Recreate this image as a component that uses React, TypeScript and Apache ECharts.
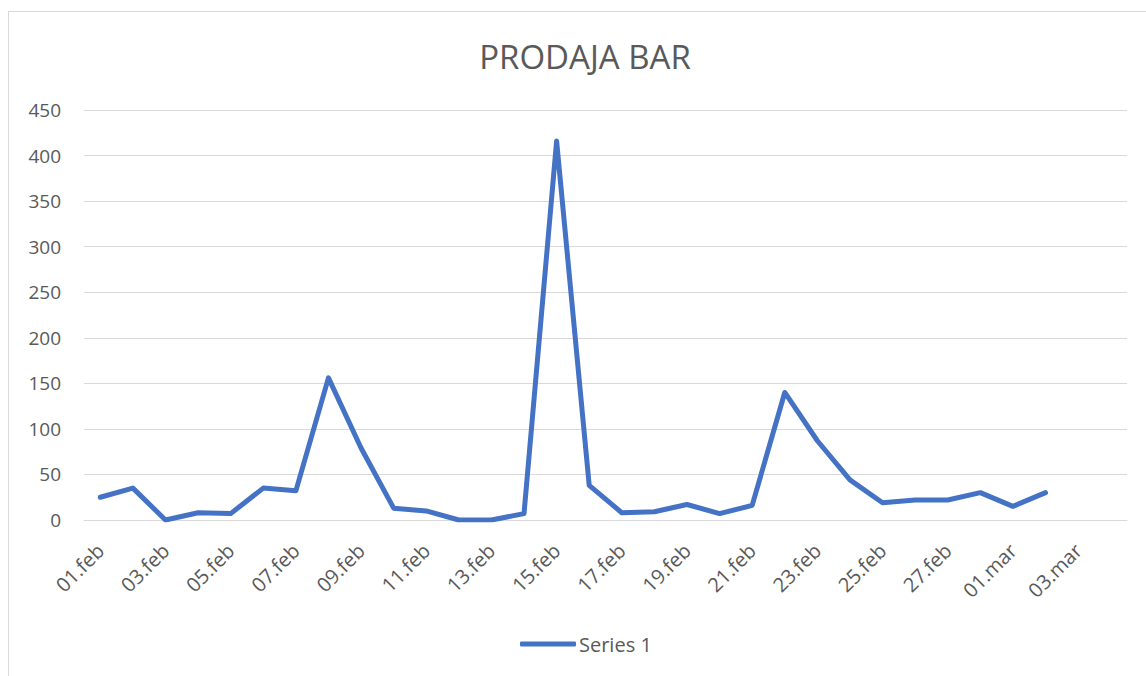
import React, { useEffect, useRef } from "react";
import * as echarts from "echarts";

const categories: string[] = [
  "01.feb", "02.feb", "03.feb", "04.feb", "05.feb", "06.feb", "07.feb", "08.feb",
  "09.feb", "10.feb", "11.feb", "12.feb", "13.feb", "14.feb", "15.feb", "16.feb",
  "17.feb", "18.feb", "19.feb", "20.feb", "21.feb", "22.feb", "23.feb", "24.feb",
  "25.feb", "26.feb", "27.feb", "28.feb", "01.mar", "02.mar", "03.mar", "04.mar",
];

const series1: (number | null)[] = [
  25, 35, 0, 8, 7, 35, 32, 156, 79, 13, 10, 0, 0, 7, 416, 38,
  8, 9, 17, 7, 16, 140, 87, 44, 19, 22, 22, 30, 15, 30, null, null,
];

const yTicks = { min: 0, max: 450, interval: 50 };

const TEXT = "#595959";
const GRID = "#d9d9d9";
const LINE = "#4472C4";
const FONT = "'Open Sans', sans-serif";

export default function App() {
  const ref = useRef<HTMLDivElement>(null);
  useEffect(() => {
    if (!ref.current) return;
    const chart = echarts.init(ref.current, undefined, { renderer: "svg" });
    chart.setOption({
      animation: false,
      backgroundColor: "#ffffff",
      textStyle: { fontFamily: FONT },
      graphic: [
        { type: "line", shape: { x1: 8.5, y1: 11.5, x2: 8.5, y2: 676 }, style: { stroke: GRID, lineWidth: 1 }, silent: true },
        { type: "line", shape: { x1: 8, y1: 11.5, x2: 1146, y2: 11.5 }, style: { stroke: GRID, lineWidth: 1 }, silent: true },
        {
          type: "text",
          x: 585,
          y: 56,
          style: { text: "PRODAJA BAR", fill: TEXT, font: `33px ${FONT}`, align: "center", verticalAlign: "middle" },
        },
      ],
      legend: {
        data: ["Series 1"],
        left: 520,
        top: 634,
        padding: 0,
        icon: "roundRect",
        itemWidth: 56,
        itemHeight: 5,
        textStyle: { color: TEXT, fontSize: 20, fontFamily: FONT, padding: [0, 0, 0, -2] },
      },
      grid: { left: 84, right: 19, top: 110, bottom: 156, containLabel: false },
      xAxis: {
        type: "category",
        data: categories,
        boundaryGap: true,
        axisLine: { show: true, lineStyle: { color: GRID, width: 1 } },
        axisTick: { show: false },
        axisLabel: {
          interval: 1,
          rotate: 45,
          margin: 27,
          color: TEXT,
          fontSize: 20,
          fontFamily: FONT,
        },
      },
      yAxis: {
        type: "value",
        min: yTicks.min,
        max: yTicks.max,
        interval: yTicks.interval,
        axisLine: { show: false },
        axisTick: { show: false },
        splitLine: { lineStyle: { color: GRID, width: 1 } },
        axisLabel: { color: TEXT, fontSize: 19, fontFamily: FONT, margin: 23 },
      },
      series: [
        {
          name: "Series 1",
          type: "line",
          data: series1,
          showSymbol: false,
          symbol: "none",
          connectNulls: false,
          lineStyle: { color: LINE, width: 5, cap: "round", join: "round" },
          itemStyle: { color: LINE },
        },
      ],
    });
    return () => chart.dispose();
  }, []);
  return <div ref={ref} style={{ position: "fixed", left: 0, top: 0, width: 1146, height: 676 }} />;
}
